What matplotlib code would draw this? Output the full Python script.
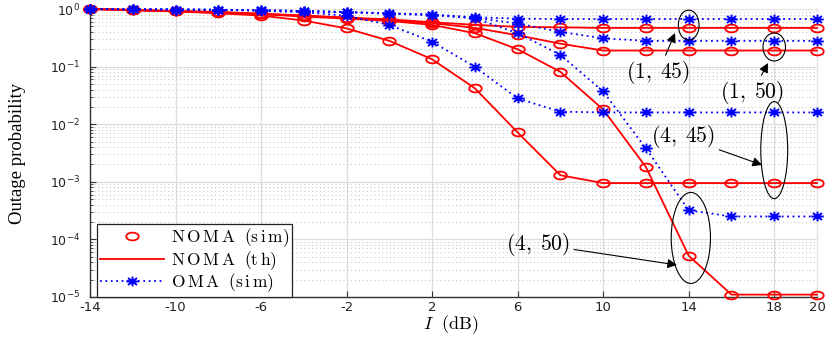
import numpy as np
import matplotlib
matplotlib.use('Agg')
import matplotlib.pyplot as plt
from matplotlib.path import Path
from matplotlib.patches import Ellipse
from matplotlib.ticker import LogLocator, NullFormatter

plt.rcParams['axes.unicode_minus'] = False

# interference level I (dB)
x_db = [-14, -12, -10, -8, -6, -4, -2, 0, 2, 4, 6, 8, 10, 12, 14, 16, 18, 20]
xtick_vals = [-14, -10, -6, -2, 2, 6, 10, 14, 18, 20]

# NOMA outage probability, (K, N) pairs
noma_1_45 = [1.0, 0.96, 0.92, 0.89, 0.83, 0.77, 0.71, 0.66, 0.59, 0.53, 0.49, 0.48,
             0.47, 0.47, 0.47, 0.47, 0.47, 0.47]
noma_1_50 = [1.0, 0.96, 0.92, 0.88, 0.82, 0.76, 0.70, 0.64, 0.57, 0.47, 0.35, 0.25,
             0.19, 0.19, 0.19, 0.19, 0.19, 0.19]
noma_4_45 = [1.0, 0.95, 0.91, 0.84, 0.77, 0.63, 0.46, 0.28, 0.134, 0.042, 0.0072, 0.0013,
             0.00095, 0.00095, 0.00095, 0.00095, 0.00095, 0.00095]
noma_4_50 = [1.0, 0.96, 0.91, 0.87, 0.81, 0.74, 0.68, 0.62, 0.53, 0.38, 0.20, 0.081,
             0.018, 0.0018, 5.2e-5, 1.1e-5, 1.1e-5, 1.1e-5]

# OMA outage probability
oma_1_45 = [1.0, 0.99, 0.98, 0.97, 0.95, 0.92, 0.89, 0.84, 0.80, 0.72, 0.68, 0.67,
            0.67, 0.67, 0.67, 0.67, 0.67, 0.67]
oma_1_50 = [1.0, 0.99, 0.98, 0.97, 0.95, 0.92, 0.88, 0.83, 0.78, 0.70, 0.56, 0.40,
            0.31, 0.28, 0.28, 0.28, 0.28, 0.28]
oma_4_45 = [1.0, 0.99, 0.98, 0.96, 0.93, 0.88, 0.76, 0.53, 0.27, 0.099, 0.028, 0.0165,
            0.016, 0.016, 0.016, 0.016, 0.016, 0.016]
oma_4_50 = [1.0, 0.99, 0.98, 0.97, 0.95, 0.92, 0.88, 0.83, 0.80, 0.69, 0.38, 0.16,
            0.037, 0.0038, 0.00032, 0.00025, 0.00025, 0.00025]

noma_curves = [noma_1_45, noma_1_50, noma_4_45, noma_4_50]
oma_curves = [oma_1_45, oma_1_50, oma_4_45, oma_4_50]

# wide markers (the original figure is stretched sideways)
t = np.linspace(0, 2 * np.pi, 60)
ring = np.column_stack([np.cos(t), 0.62 * np.sin(t)])
star = Path([(-1, 0), (1, 0), (0, -0.78), (0, 0.78),
             (-0.72, -0.56), (0.72, 0.56), (-0.72, 0.56), (0.72, -0.56)],
            [Path.MOVETO, Path.LINETO] * 4)

fig = plt.figure(figsize=(8.3, 3.38), dpi=100)
ax = fig.add_axes([90 / 830, 41 / 338, 727 / 830, 288 / 338])

for i, y in enumerate(noma_curves):
    ax.plot(x_db, y, color='#ff0000', lw=1.3, label='NOMA (th)' if i == 0 else None,
            clip_on=False, zorder=3)
    ax.plot(x_db, y, ls='none', marker=ring, ms=9, mfc='none', mec='#ff0000', mew=1.3,
            label='NOMA (sim)' if i == 0 else None, clip_on=False, zorder=3)

for i, y in enumerate(oma_curves):
    ax.plot(x_db, y, color='#0000ff', ls=(0, (1, 2)), lw=1.3, marker=star, ms=9,
            mfc='none', mec='#0000ff', mew=1.4, label='OMA (sim)' if i == 0 else None,
            clip_on=False, zorder=4)

ax.set_yscale('log')
ax.set_xlim(-14, 20)
ax.set_ylim(1e-5, 1)
ax.set_xticks(xtick_vals)
ax.yaxis.set_major_locator(LogLocator(base=10, numticks=10))
ax.yaxis.set_minor_locator(LogLocator(base=10, subs=np.arange(2, 10), numticks=50))
ax.yaxis.set_minor_formatter(NullFormatter())

ax.grid(True, which='major', color='#dddddd', lw=0.9, ls='-')
ax.grid(True, which='minor', axis='y', color='#c8c8c8', lw=0.8, ls=(0, (1, 2.5)))
ax.set_axisbelow(True)

for side in ['top', 'right']:
    ax.spines[side].set_color('#e3e3e3')
for side in ['left', 'bottom']:
    ax.spines[side].set_color('#333333')
    ax.spines[side].set_linewidth(1.0)
ax.tick_params(axis='both', which='major', direction='in', length=4, width=0.8,
               colors='#333333', labelcolor='#222222')
ax.tick_params(axis='x', labelsize=9.5, pad=3)
ax.tick_params(axis='y', labelsize=9, pad=7)
ax.tick_params(axis='y', which='minor', direction='in', length=2, width=0.6, colors='#333333')

fig.text(18 / 830, 1 - 153 / 338, 'Outage probability', rotation=90, ha='center',
         va='center', family='Liberation Serif', fontsize=13.5)
fig.text(451 / 830, 1 - 325 / 338, r'$I\ \ \mathrm{(dB)}$', ha='center', va='center',
         fontsize=13, math_fontfamily='cm')

# legend in the lower-left corner
handles, labels = ax.get_legend_handles_labels()
order = [labels.index('NOMA (sim)'), labels.index('NOMA (th)'), labels.index('OMA (sim)')]
leg_text = [r'$\mathrm{N\,O\,M\,A\ \ (s\,i\,m)}$',
            r'$\mathrm{N\,O\,M\,A\ \ (t\,h)}$',
            r'$\mathrm{O\,M\,A\ \ (s\,i\,m)}$']
leg = ax.legend([handles[k] for k in order], leg_text,
                loc='lower left', bbox_to_anchor=(0.0096, 0.0), borderaxespad=0,
                fontsize=12.5, handlelength=3.7, handletextpad=0.4, labelspacing=0.0,
                borderpad=0.15, fancybox=False, framealpha=1, edgecolor='#222222')
leg.get_frame().set_linewidth(0.9)
for txt in leg.get_texts():
    txt.set_math_fontfamily('cm')

# ellipses marking the (K, N) groups, in axes fraction
def xfrac(v):
    return (v + 14) / 34.0

ellipses = [(14, 0.944, 0.0285, 0.104), (18, 0.868, 0.031, 0.097),
            (18, 0.510, 0.037, 0.337), (14.1, 0.205, 0.054, 0.316)]
for cx, cy, w, h in ellipses:
    ax.add_patch(Ellipse((xfrac(cx), cy), w, h, transform=ax.transAxes,
                         fill=False, ec='k', lw=0.8, zorder=6, clip_on=False))

arrow = dict(arrowstyle='-|>', color='k', lw=0.8, mutation_scale=14, shrinkA=1, shrinkB=0)
notes = [(r'$(1,\;45)$', (13.36, 0.383), (12.57, 0.078)),
         (r'$(1,\;50)$', (17.71, 0.1155), (16.96, 0.035)),
         (r'$(4,\;45)$', (17.43, 0.00196), (13.74, 0.0060)),
         (r'$(4,\;50)$', (13.45, 3.6e-5), (6.95, 8.3e-5))]
for label, head, pos in notes:
    ax.annotate(label, xy=head, xytext=pos, ha='center', va='center', fontsize=15.5,
                math_fontfamily='cm', arrowprops=arrow, zorder=7)

fig.savefig('out.png', dpi=100)
